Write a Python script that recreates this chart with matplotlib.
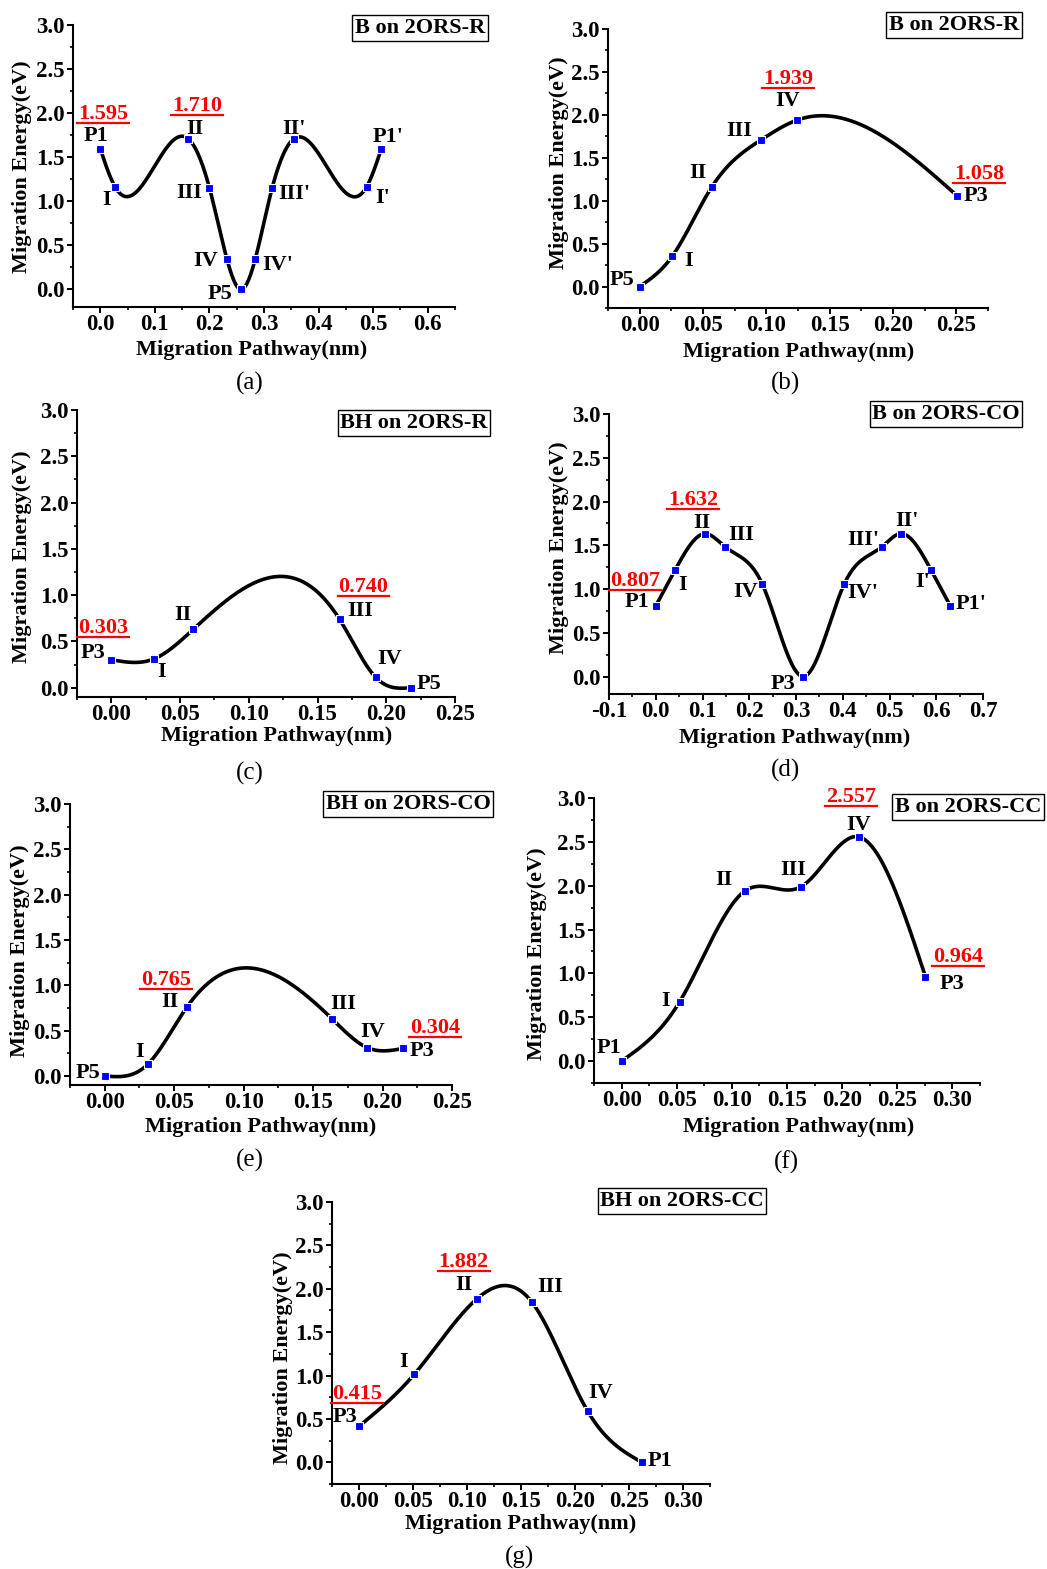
import numpy as np
import matplotlib
matplotlib.use('Agg')
import matplotlib.pyplot as plt
from matplotlib.lines import Line2D
from matplotlib.ticker import MultipleLocator, FormatStrFormatter

W, H = 1047, 1569

# ---- values (x in nm, E in eV) ----
a_x = [0.0, 0.027, 0.161, 0.200, 0.232, 0.257, 0.284, 0.315, 0.355, 0.488, 0.515]
a_y = [1.595, 1.163, 1.710, 1.152, 0.345, 0.0, 0.345, 1.152, 1.710, 1.163, 1.595]
a_names = ['P1', 'I', 'II', 'III', 'IV', 'P5', "IV'", "III'", "II'", "I'", "P1'"]
a_marked = [0, 2]

b_x = [0.0, 0.0256, 0.0568, 0.0958, 0.1243, 0.2506]
b_y = [0.0, 0.35, 1.157, 1.708, 1.939, 1.058]
b_names = ['P5', 'I', 'II', 'III', 'IV', 'P3']
b_marked = [4, 5]

c_x = [0.0, 0.0308, 0.0595, 0.166, 0.1923, 0.2178]
c_y = [0.303, 0.31, 0.63, 0.740, 0.112, 0.0]
c_names = ['P3', 'I', 'II', 'III', 'IV', 'P5']
c_marked = [0, 3]

d_x = [0.0, 0.0413, 0.106, 0.149, 0.228, 0.315, 0.403, 0.483, 0.524, 0.589, 0.630]
d_y = [0.807, 1.216, 1.632, 1.479, 1.055, 0.0, 1.055, 1.479, 1.632, 1.216, 0.807]
d_names = ['P1', 'I', 'II', 'III', 'IV', 'P3', "IV'", "III'", "II'", "I'", "P1'"]
d_marked = [0, 2]

e_x = [0.0, 0.0312, 0.0594, 0.1635, 0.189, 0.215]
e_y = [0.0, 0.132, 0.765, 0.632, 0.312, 0.304]
e_names = ['P5', 'I', 'II', 'III', 'IV', 'P3']
e_marked = [2, 5]

f_x = [0.0, 0.0527, 0.1115, 0.163, 0.215, 0.2755]
f_y = [0.0, 0.677, 1.937, 1.99, 2.557, 0.964]
f_names = ['P1', 'I', 'II', 'III', 'IV', 'P3']
f_marked = [4, 5]

g_x = [0.0, 0.0513, 0.109, 0.160, 0.2116, 0.262]
g_y = [0.415, 1.016, 1.882, 1.848, 0.592, 0.0]
g_names = ['P3', 'I', 'II', 'III', 'IV', 'P1']
g_marked = [0, 2]

titles = ['B on 2ORS-R', 'B on 2ORS-R', 'BH on 2ORS-R', 'B on 2ORS-CO',
          'BH on 2ORS-CO', 'B on 2ORS-CC', 'BH on 2ORS-CC']
letters = ['(a)', '(b)', '(c)', '(d)', '(e)', '(f)', '(g)']

# ---- layout (pixels, top-left origin) ----
# axes box: left, right, top, bottom
boxes = [(73, 455, 25, 307), (608, 988, 29, 308), (77, 455, 410, 697),
         (609, 983, 414, 694), (70, 452, 804, 1085), (594, 980, 798, 1083),
         (332, 710, 1202, 1484)]
xlims = [(-0.05, 0.65), (-0.025, 0.275), (-0.025, 0.25), (-0.1, 0.7),
         (-0.025, 0.25), (-0.025, 0.325), (-0.025, 0.325)]
ylims = [(-0.2, 3.0), (-0.25, 3.0), (-0.1, 3.0), (-0.2, 3.0),
         (-0.1, 3.0), (-0.25, 3.0), (-0.25, 3.0)]
xsteps = [(0.0, 0.6, 0.1, '%.1f'), (0.0, 0.25, 0.05, '%.2f'), (0.0, 0.25, 0.05, '%.2f'),
          (-0.1, 0.7, 0.1, '%.1f'), (0.0, 0.25, 0.05, '%.2f'), (0.0, 0.30, 0.05, '%.2f'),
          (0.0, 0.30, 0.05, '%.2f')]
xlab_pos = [(252, 350), (799, 352), (277, 736), (795, 738), (261, 1127), (799, 1127), (521, 1524)]
ylab_pos = [(22, 167), (559, 163), (22, 557), (559, 548), (20, 951), (537, 954), (283, 1358)]
legend_pos = [(420, 28, 'center'), (954, 25, 'center'), (414, 423, 'center'),
              (946, 414, 'center'), (408, 804, 'center'), (895, 807, 'left'),
              (682, 1201, 'center')]
letter_pos = [(250, 383), (785, 383), (250, 773), (785, 770), (250, 1160), (786, 1162), (520, 1557)]

# label offsets from each marker (pixels, right / up)
name_off = [
    [(-4, 13), (-8, -13), (7, 10), (-20, -5), (-21, -2), (-21, -5), (22, -6), (22, -6), (0, 10), (16, -11), (7, 12)],
    [(-18, 7), (16, -5), (-14, 14), (-22, 9), (-9, 19), (19, 0)],
    [(-18, 7), (8, -13), (-10, 14), (21, 8), (14, 18), (18, 4)],
    [(-19, 4), (8, -15), (-3, 11), (16, 12), (-17, -8), (-20, -7), (19, -9), (-18, 7), (6, 13), (-8, -12), (21, 2)],
    [(-17, 3), (-9, 12), (-17, 5), (11, 15), (5, 16), (19, -3)],
    [(-13, 13), (-14, 1), (-21, 11), (-8, 17), (0, 12), (27, -7)],
    [(-14, 9), (-11, 12), (-13, 14), (18, 15), (13, 18), (18, 1)],
]
red_off = [[(3, 35), (9, 33)], [(-9, 41), (22, 22)], [(-8, 32), (24, 32)],
           [(-21, 25), (-12, 34)], [(-21, 27), (32, 20)], [(-8, 40), (33, 20)],
           [(-2, 32), (-13, 37)]]

panels = [(a_x, a_y, a_names, a_marked), (b_x, b_y, b_names, b_marked),
          (c_x, c_y, c_names, c_marked), (d_x, d_y, d_names, d_marked),
          (e_x, e_y, e_names, e_marked), (f_x, f_y, f_names, f_marked),
          (g_x, g_y, g_names, g_marked)]


def natural_spline(x, y, n=500):
    x = np.asarray(x, float)
    y = np.asarray(y, float)
    m = len(x)
    h = np.diff(x)
    A = np.zeros((m, m))
    r = np.zeros(m)
    A[0, 0] = A[-1, -1] = 1.0
    for i in range(1, m - 1):
        A[i, i - 1] = h[i - 1]
        A[i, i] = 2 * (h[i - 1] + h[i])
        A[i, i + 1] = h[i]
        r[i] = 6 * ((y[i + 1] - y[i]) / h[i] - (y[i] - y[i - 1]) / h[i - 1])
    M = np.linalg.solve(A, r)
    xs = np.linspace(x[0], x[-1], n)
    k = np.clip(np.searchsorted(x, xs) - 1, 0, m - 2)
    hk = h[k]
    t1 = x[k + 1] - xs
    t0 = xs - x[k]
    ys = (M[k] * t1 ** 3 + M[k + 1] * t0 ** 3) / (6 * hk) \
        + (y[k] / hk - M[k] * hk / 6) * t1 + (y[k + 1] / hk - M[k + 1] * hk / 6) * t0
    return xs, ys


plt.rcParams['font.family'] = ['Liberation Serif', 'DejaVu Serif']
plt.rcParams['font.size'] = 16
plt.rcParams['font.weight'] = 'bold'

fig = plt.figure(figsize=(W / 100, H / 100), dpi=100)

red_texts = []
for p, (xv, yv, names, marked) in enumerate(panels):
    L, R, T, B = boxes[p]
    ax = fig.add_axes([L / W, 1 - B / H, (R - L) / W, (B - T) / H])
    ax.spines['top'].set_visible(False)
    ax.spines['right'].set_visible(False)
    for s in ('left', 'bottom'):
        ax.spines[s].set_linewidth(1.5)

    xs, ys = natural_spline(xv, yv)
    ax.plot(xs, ys, color='black', lw=2.6, zorder=2)
    ax.plot(xv, yv, ls='none', marker='s', ms=6, mfc='#0000ff', mec='white', mew=0.8, zorder=3)

    ax.set_xlim(*xlims[p])
    ax.set_ylim(*ylims[p])
    x0, x1, st, fmt = xsteps[p]
    ax.set_xticks(np.arange(x0, x1 + st / 2, st))
    ax.xaxis.set_major_formatter(FormatStrFormatter(fmt))
    ax.xaxis.set_minor_locator(MultipleLocator(st / 2))
    ax.set_yticks(np.arange(0, 3.01, 0.5))
    ax.yaxis.set_major_formatter(FormatStrFormatter('%.1f'))
    ax.yaxis.set_minor_locator(MultipleLocator(0.25))
    ax.tick_params(which='major', direction='out', length=4.5, width=1.4, pad=1.5, labelsize=16.5)
    ax.tick_params(which='minor', direction='out', length=2.5, width=1.2)
    ax.tick_params(axis='x', pad=0.8)

    ax.set_xlabel('Migration Pathway(nm)', fontsize=16, fontweight='bold')
    ax.set_ylabel('Migration Energy(eV)', fontsize=16, fontweight='bold')
    lx, ly = xlab_pos[p]
    ax.xaxis.set_label_coords((lx - L) / (R - L), (B - ly) / (B - T))
    ax.xaxis.label.set_va('center')
    lx, ly = ylab_pos[p]
    ax.yaxis.set_label_coords((lx - L) / (R - L), (B - ly) / (B - T))
    ax.yaxis.label.set_va('center')

    for i, nm in enumerate(names):
        ax.annotate(nm, (xv[i], yv[i]), xytext=name_off[p][i], textcoords='offset pixels',
                    ha='center', va='center', fontsize=16, fontweight='bold', zorder=4)
    for j, i in enumerate(marked):
        t = ax.annotate('%.3f' % yv[i], (xv[i], yv[i]), xytext=red_off[p][j],
                        textcoords='offset pixels', ha='center', va='center',
                        fontsize=16, fontweight='bold', color='#ff0000', zorder=4,
                        annotation_clip=False)
        red_texts.append(t)

    gx, gy, ha = legend_pos[p]
    fig.text(gx / W, 1 - gy / H, titles[p], ha=ha, va='center', fontsize=16, fontweight='bold',
             bbox=dict(boxstyle='square,pad=0.12', fc='white', ec='black', lw=1.0))
    tx, ty = letter_pos[p]
    fig.text(tx / W, 1 - ty / H, letters[p], ha='center', va='center', fontsize=18,
             fontweight='normal')

# underline the red energy values
fig.canvas.draw()
rend = fig.canvas.get_renderer()
inv = fig.transFigure.inverted()
for t in red_texts:
    bb = t.get_window_extent(rend)
    (u0, v0), (u1, _) = inv.transform([(bb.x0 - 1, bb.y0 + 1), (bb.x1 + 1, bb.y0 + 1)])
    fig.add_artist(Line2D([u0, u1], [v0, v0], transform=fig.transFigure, color='#ff0000', lw=1.6))

fig.savefig('out.png', dpi=100)
